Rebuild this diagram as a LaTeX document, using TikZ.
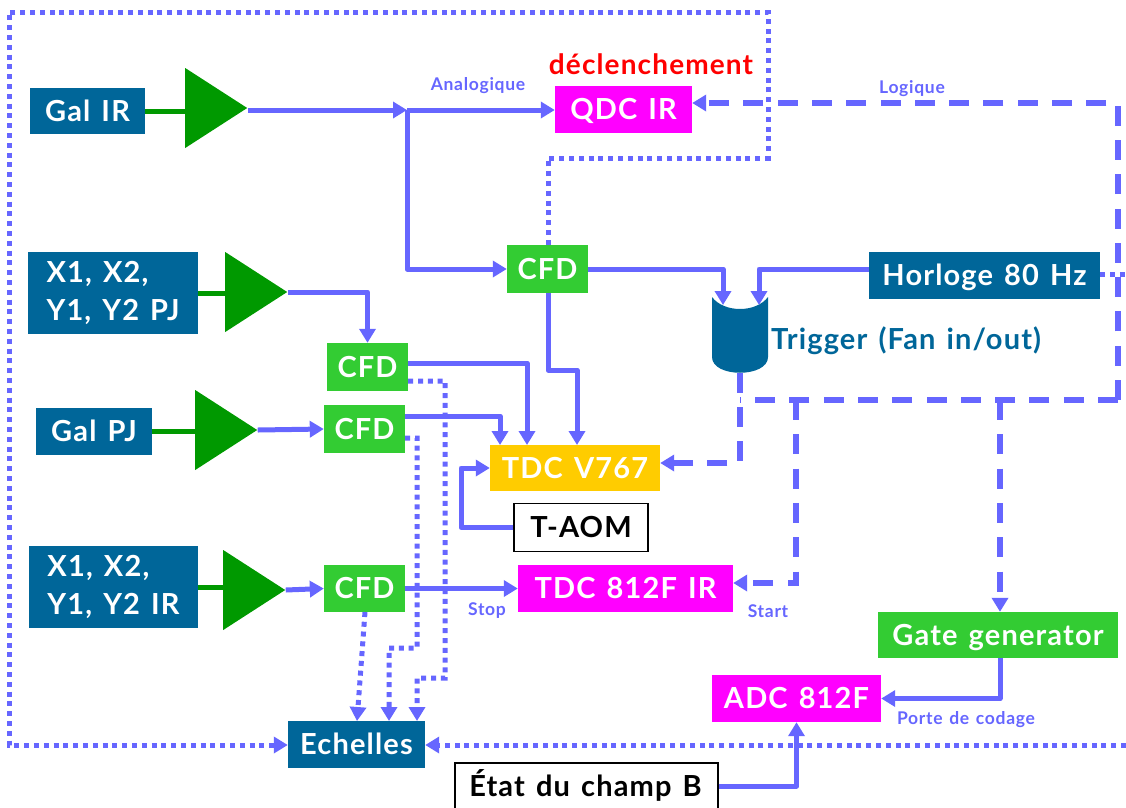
\documentclass[tikz,border=0pt]{standalone}
\usepackage{fontspec}
\setmainfont{Lato}[BoldFont={Lato Bold},BoldFeatures={LetterSpace=4,WordSpace=1.35}]
\usetikzlibrary{arrows.meta,shapes.geometric,calc}
\definecolor{wire}{HTML}{6666FF}
\definecolor{navy}{HTML}{006699}
\definecolor{grn}{HTML}{33CC33}
\definecolor{amp}{HTML}{009900}
\definecolor{mag}{HTML}{FF00FF}
\definecolor{yel}{HTML}{FFCC00}
\newcommand{\bigf}{\fontsize{29}{38}\selectfont\bfseries}
\newcommand{\smallf}{\fontsize{17.5}{20}\selectfont\bfseries}
\tikzset{
  x=1pt,y=-1pt,
  blockbox/.style={inner sep=0pt,text=white,font=\bigf,align=left},
  oneline/.style={text height=20pt,text depth=0pt},
  navybox/.style={blockbox,fill=navy},
  grnbox/.style={blockbox,oneline,fill=grn},
  magbox/.style={blockbox,oneline,fill=mag},
  yelbox/.style={blockbox,oneline,fill=yel},
  whitebox/.style={blockbox,fill=white,draw=black,line width=1.5pt,text=black},
  ampl/.style={isosceles triangle,isosceles triangle stretches,shape border rotate=0,fill=amp,inner sep=0pt,minimum width=80pt,minimum height=62pt,anchor=lower side},
  lab/.style={text=wire,font=\smallf,inner sep=0pt},
  sol/.style={draw=wire,line width=5pt,line join=round},
  dotw/.style={draw=wire,line width=5pt,dash pattern=on 5pt off 4.8pt},
  dashw/.style={draw=wire,line width=5.5pt,dash pattern=on 20pt off 14.3pt},
  tip/.style={-{Triangle[width=16pt,length=14pt]}},
  feed/.style={draw=amp,line width=5pt},
}
\begin{document}
\begin{tikzpicture}
\clip (0,0) rectangle (1126,807);
% trigger body
\fill[navy] (712,297) .. controls (724,313) and (756,313) .. (768,297) -- (768,357)
  .. controls (768,378) and (712,378) .. (712,357) -- cycle;
\node[inner sep=0pt,minimum width=56pt,minimum height=75pt] (trig) at (740,335) {};
% boxes
\node[navybox,oneline,minimum width=115pt,minimum height=46pt] (galir) at (87.5,111) {Gal IR};
\node[navybox,minimum width=170pt,minimum height=82pt] (xpj) at (113,293) {X1, X2,\\Y1, Y2 PJ};
\node[navybox,oneline,minimum width=116pt,minimum height=47pt] (galpj) at (94,431.5) {Gal PJ};
\node[navybox,minimum width=169pt,minimum height=82pt] (xir) at (113.5,587) {X1, X2,\\Y1, Y2 IR};
\node[ampl] (a1) at (185,108) {};
\node[ampl] (a2) at (225,292) {};
\node[ampl] (a3) at (195,430) {};
\node[ampl] (a4) at (223,590) {};
\node[magbox,minimum width=137pt,minimum height=47pt] (qdc) at (623.5,109.5) {QDC IR};
\node[grnbox,minimum width=81pt,minimum height=48pt] (cfd1) at (547.5,269) {CFD};
\node[grnbox,minimum width=81pt,minimum height=48pt] (cfd2) at (367.5,367) {CFD};
\node[grnbox,minimum width=81pt,minimum height=48pt] (cfd3) at (364.5,429) {CFD};
\node[grnbox,minimum width=81pt,minimum height=47pt] (cfd4) at (364.5,588.5) {CFD};
\node[navybox,oneline,minimum width=231pt,minimum height=47pt] (horl) at (984.5,275.5) {Horloge 80 Hz};
\node[yelbox,minimum width=170pt,minimum height=46pt] (v767) at (575,468) {TDC V767};
\node[whitebox,oneline,minimum width=134pt,minimum height=48pt] (taom) at (581,527.5) {T-AOM};
\node[magbox,minimum width=215pt,minimum height=47pt] (t812) at (625.5,588.5) {TDC 812F IR};
\node[grnbox,minimum width=240pt,minimum height=46pt] (gate) at (998,635) {Gate generator};
\node[magbox,minimum width=169pt,minimum height=47pt] (adc) at (796.5,698.5) {ADC 812F};
\node[navybox,oneline,minimum width=137pt,minimum height=47pt] (ech) at (356.5,744.5) {Echelles};
\node[whitebox,minimum width=263pt,minimum height=56pt,anchor=north west] (etat) at (454,762) {};
\node[inner sep=0pt,font=\bigf,text=black,oneline] (etatt) at (585.5,786) {État du champ B};
% texts
\node[inner sep=0pt,font=\fontsize{28}{32}\selectfont\bfseries,text=red] (decl) at (651,64) {déclenchement};
\node[inner sep=0pt,font=\fontsize{29}{32}\selectfont\bfseries,text=navy,anchor=west] (trigt) at (771,341) {Trigger (Fan in/out)};
\node[lab] (lana) at (478,86) {Analogique};
\node[lab] (llog) at (912,89) {Logique};
\node[lab] (lstop) at (487,611) {Stop};
\node[lab] (lstart) at (768,611) {Start};
\node[lab] (lporte) at (966,720) {Porte de codage};
% route points
\coordinate (j) at (407,110);
\coordinate (tl) at (9,12);
\coordinate (bl) at (9,745);
\coordinate (tr) at (768,12);
\coordinate (br) at (768,158);
\coordinate (bq) at (548,158);
\coordinate (rt) at (1118,103);
\coordinate (rb) at (1118,400);
\coordinate (bt) at (740,400);
\coordinate (b1) at (796,400);
\coordinate (b2) at (1000,400);
\coordinate (re) at (1126,745);
\coordinate (rh) at (1126,274);
% green feeds
\draw[feed] (galir.east) -- (a1.lower side |- galir.east);
\draw[feed] (xpj.east) -- (a2.lower side |- xpj.east);
\draw[feed] (galpj.east) -- (a3.lower side |- galpj.east);
\draw[feed] (xir.east) -- (a4.lower side |- xir.east);
% dotted
\draw[dotw,tip] (bq |- cfd1.north) -- (bq) -- (br) -- (tr) -- (tl) -- (bl) -- (ech.west |- bl);
\draw[dotw,tip] (re) -- (ech.east |- re);
\draw[dotw] (horl.east |- rh) -- (rh);
\draw[dotw,tip] ([yshift=-14pt]cfd2.east) -- +(37,0) -- (445,678) -- (417,678) -- (417,721);
\draw[dotw,tip] ([yshift=-9pt]cfd3.east) -- +(12,0) -- (417,648) -- (389,648) -- (389,721);
\draw[dotw,tip] (365,612) -- (357,721);
% solid
\draw[sol,tip] (a1.apex |- j) -- (j);
\draw[sol,tip] (j) -- (qdc.west |- j);
\draw[sol,tip] (j) |- (cfd1.west);
\draw[sol,tip] (cfd1.east) -| (723,305);
\draw[sol,tip] (horl.west |- cfd1.east) -| (759,305);
\draw[sol,tip] (a2.apex) -| (cfd2.north);
\draw[sol,tip] (a3.apex) -- (cfd3.west);
\draw[sol,tip] (a4.apex) -- (cfd4.west);
\draw[sol,tip] ([yshift=4pt]cfd2.east) -| (527,445);
\draw[sol,tip] ([yshift=13pt]cfd3.east) -| (500,445);
\draw[sol,tip] (548,293) -- (548,370) -| (577,445);
\draw[sol,tip] (taom.west) -| (461,468) -- (v767.west);
\draw[sol,tip] (cfd4.east) -- (t812.west);
\draw[sol,tip] (gate.south -| b2) |- (adc.east);
\draw[sol,tip] (etat.east |- etatt) -| (adc.south);
% dashed
\draw[dashw,tip] (rb) -- (rt) -- (qdc.east |- rt);
\draw[dashw] (rb) -- (bt);
\draw[dashw,tip] (trig.south) -- (bt) |- (v767.east |- 0,463);
\draw[dashw,tip] (b1) |- (t812.east |- 0,583);
\draw[dashw,tip] (b2) -- (gate.north -| b2);
\end{tikzpicture}
\end{document}
